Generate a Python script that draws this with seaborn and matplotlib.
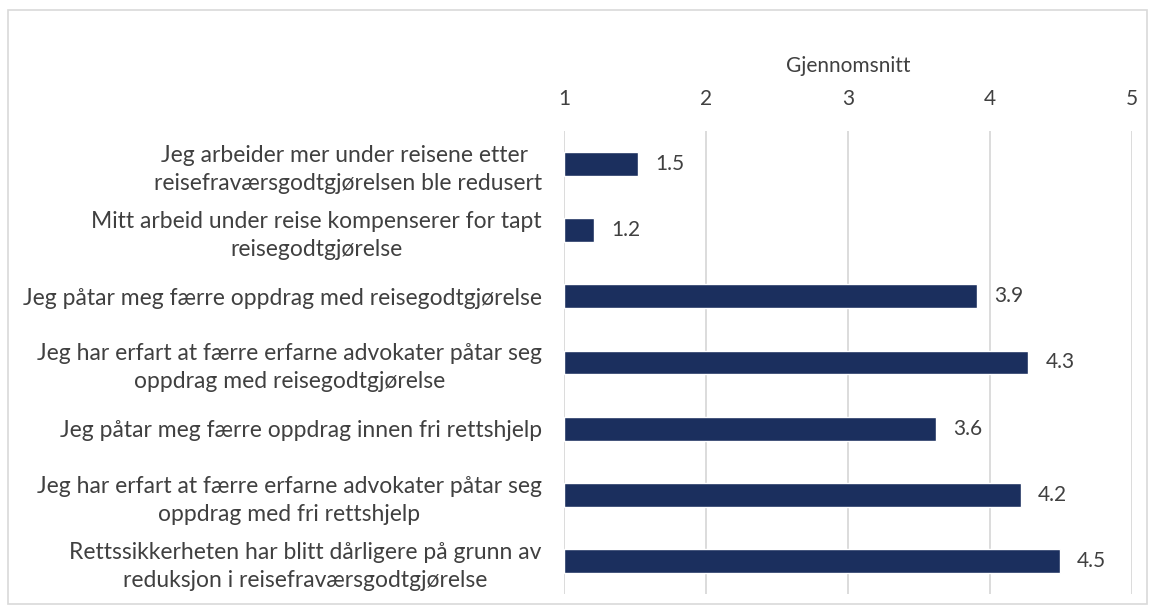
import matplotlib
matplotlib.use("Agg")
import matplotlib.pyplot as plt
import seaborn as sns
import pandas as pd
from matplotlib.patches import Rectangle

categories = [
    "Jeg arbeider mer under reisene etter \nreisefraværsgodtgjørelsen ble redusert",
    "Mitt arbeid under reise kompenserer for tapt\nreisegodtgjørelse",
    "Jeg påtar meg færre oppdrag med reisegodtgjørelse",
    "Jeg har erfart at færre erfarne advokater påtar seg\noppdrag med reisegodtgjørelse",
    "Jeg påtar meg færre oppdrag innen fri rettshjelp",
    "Jeg har erfart at færre erfarne advokater påtar seg\noppdrag med fri rettshjelp",
    "Rettssikkerheten har blitt dårligere på grunn av\nreduksjon i reisefraværsgodtgjørelse",
]
values = [1.52, 1.21, 3.91, 4.27, 3.62, 4.22, 4.49]
value_labels = ["1.5", "1.2", "3.9", "4.3", "3.6", "4.2", "4.5"]
xticks = [1, 2, 3, 4, 5]
axis_title = "Gjennomsnitt"

sns.set_theme(style="white")
plt.rcParams['font.family'] = ['Lato', 'DejaVu Sans']

df = pd.DataFrame({"cat": categories, "val": values})

fig = plt.figure(figsize=(11.55, 6.14), dpi=100)
ax = fig.add_axes([564/1155, 1-594/614, (1132-564)/1155, (594-131)/614])

bar_color = "#1B2F5E"
sns.barplot(data=df, x="val", y="cat", ax=ax, color=bar_color, width=0.36,
            orient="h", saturation=1)
# bars start at the axis minimum (1)
for p in ax.patches:
    w = p.get_width()
    p.set_x(1)
    p.set_width(w - 1)

ax.set_xlim(1, 5)
ax.set_ylim(len(categories) - 0.5, -0.5)
ax.set_xticks(xticks)
ax.set_xticklabels([str(t) for t in xticks])
ax.xaxis.tick_top()
ax.xaxis.set_label_position("top")
ax.set_xlabel(axis_title, fontsize=15, color="#404040", labelpad=12)
ax.set_ylabel("")
ax.tick_params(axis="x", length=0, labelsize=15, labelcolor="#404040", pad=16)
ax.tick_params(axis="y", length=0, labelsize=16.5, labelcolor="#404040", pad=16)
for lbl in ax.get_yticklabels():
    lbl.set_horizontalalignment("right")
    lbl.set_multialignment("center")
    lbl.set_linespacing(1.4)

ax.grid(axis="x", color="#D9D9D9", linewidth=1.3)
ax.grid(axis="y", visible=False)
ax.set_axisbelow(True)
for s in ax.spines.values():
    s.set_visible(False)

for i, (v, t) in enumerate(zip(values, value_labels)):
    ax.text(v + 0.12, i, t, va="center", ha="left", fontsize=15, color="#404040")

fig.patches.append(Rectangle((8/1155, 1-604/614), 1139/1155, 594/614, transform=fig.transFigure,
                             fill=False, edgecolor="#D9D9D9", linewidth=1.2))

fig.savefig("out.png", dpi=100)
